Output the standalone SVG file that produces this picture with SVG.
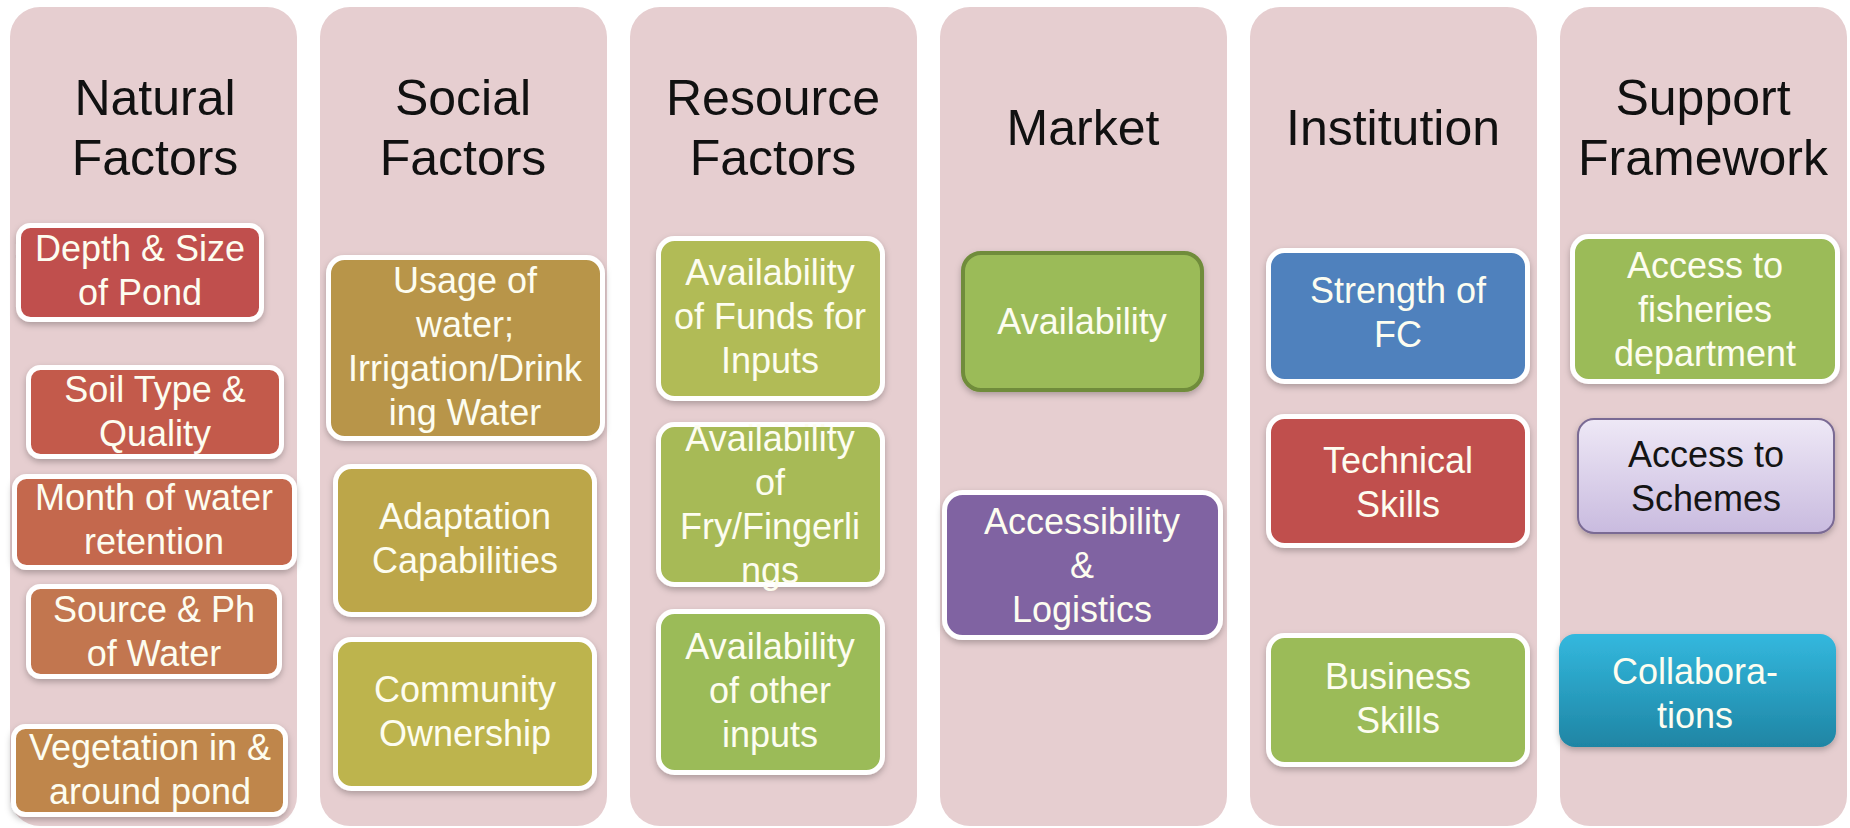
<svg xmlns="http://www.w3.org/2000/svg" width="1850" height="828" viewBox="0 0 1850 828">
  <style>
    .col { fill: #e6ced0; }
    .head { font-family: "Liberation Sans", Arial, sans-serif; font-size: 50px; fill: #111111; text-anchor: middle; }
    .lbl { font-family: "Liberation Sans", Arial, sans-serif; font-size: 36px; fill: #fdfdf0; text-anchor: middle; }
    .dark { fill: #141414; }
    .box { stroke: #ffffff; stroke-width: 5; filter: url(#shadow); }
  </style>
  <defs>
    <filter id="shadow" x="-10%" y="-10%" width="120%" height="130%">
      <feDropShadow dx="0" dy="3" stdDeviation="3" flood-color="#000000" flood-opacity="0.25"/>
    </filter>
    <linearGradient id="lavender" x1="0" y1="0" x2="0" y2="1">
      <stop offset="0" stop-color="#eee8f6"/>
      <stop offset="1" stop-color="#c9bbdf"/>
    </linearGradient>
    <linearGradient id="teal" x1="0" y1="0" x2="0" y2="1">
      <stop offset="0" stop-color="#33b8de"/>
      <stop offset="1" stop-color="#1f85a4"/>
    </linearGradient>
  </defs>

  <rect width="1850" height="828" fill="#ffffff"/>

  <!-- column panels -->
  <g id="columns">
    <rect class="col" x="10" y="7" width="287" height="819" rx="30"/>
    <rect class="col" x="320" y="7" width="287" height="819" rx="30"/>
    <rect class="col" x="630" y="7" width="287" height="819" rx="30"/>
    <rect class="col" x="940" y="7" width="287" height="819" rx="30"/>
    <rect class="col" x="1250" y="7" width="287" height="819" rx="30"/>
    <rect class="col" x="1560" y="7" width="287" height="819" rx="30"/>
  </g>

  <!-- column headings -->
  <g id="headings">
    <text class="head" x="155" y="115">Natural</text>
    <text class="head" x="155" y="175">Factors</text>
    <text class="head" x="463" y="115">Social</text>
    <text class="head" x="463" y="175">Factors</text>
    <text class="head" x="773" y="115">Resource</text>
    <text class="head" x="773" y="175">Factors</text>
    <text class="head" x="1083" y="145">Market</text>
    <text class="head" x="1393" y="145">Institution</text>
    <text class="head" x="1703" y="115">Support</text>
    <text class="head" x="1703" y="175">Framework</text>
  </g>

  <!-- Natural Factors -->
  <g id="depth-size">
    <rect class="box" x="18.5" y="225.5" width="243" height="94" rx="12" fill="#c0504d"/>
    <text class="lbl" x="140" y="261">Depth &amp; Size</text>
    <text class="lbl" x="140" y="305">of Pond</text>
  </g>
  <g id="soil-type">
    <rect class="box" x="28.5" y="367.5" width="253" height="89" rx="12" fill="#c35a4b"/>
    <text class="lbl" x="155" y="402">Soil Type &amp;</text>
    <text class="lbl" x="155" y="446">Quality</text>
  </g>
  <g id="water-retention">
    <rect class="box" x="14.5" y="476.5" width="280" height="91" rx="12" fill="#c4674d"/>
    <text class="lbl" x="154" y="510">Month of water</text>
    <text class="lbl" x="154" y="554">retention</text>
  </g>
  <g id="source-ph">
    <rect class="box" x="28.5" y="586.5" width="251" height="90" rx="12" fill="#c27650"/>
    <text class="lbl" x="154" y="622">Source &amp; Ph</text>
    <text class="lbl" x="154" y="666">of Water</text>
  </g>
  <g id="vegetation">
    <rect class="box" x="13.5" y="726.5" width="272" height="88" rx="12" fill="#bf864c"/>
    <text class="lbl" x="150" y="760">Vegetation in &amp;</text>
    <text class="lbl" x="150" y="804">around pond</text>
  </g>

  <!-- Social Factors -->
  <g id="water-usage">
    <rect class="box" x="328.5" y="257.5" width="274" height="181" rx="16" fill="#b8954a"/>
    <text class="lbl" x="465" y="293">Usage of</text>
    <text class="lbl" x="465" y="337">water;</text>
    <text class="lbl" x="465" y="381">Irrigation/Drink</text>
    <text class="lbl" x="465" y="425">ing Water</text>
  </g>
  <g id="adaptation">
    <rect class="box" x="335.5" y="466.5" width="259" height="148" rx="16" fill="#bca64a"/>
    <text class="lbl" x="465" y="529">Adaptation</text>
    <text class="lbl" x="465" y="573">Capabilities</text>
  </g>
  <g id="community">
    <rect class="box" x="335.5" y="639.5" width="259" height="149" rx="16" fill="#bdb44d"/>
    <text class="lbl" x="465" y="702">Community</text>
    <text class="lbl" x="465" y="746">Ownership</text>
  </g>

  <!-- Resource Factors -->
  <g id="funds">
    <rect class="box" x="658.5" y="238.5" width="224" height="160" rx="16" fill="#b1bb57"/>
    <text class="lbl" x="770" y="285">Availability</text>
    <text class="lbl" x="770" y="329">of Funds for</text>
    <text class="lbl" x="770" y="373">Inputs</text>
  </g>
  <g id="fry">
    <rect class="box" x="658.5" y="424.5" width="224" height="160" rx="16" fill="#a7ba56"/>
    <text class="lbl" x="770" y="451">Availability</text>
    <text class="lbl" x="770" y="495">of</text>
    <text class="lbl" x="770" y="539">Fry/Fingerli</text>
    <text class="lbl" x="770" y="583">ngs</text>
  </g>
  <g id="other-inputs">
    <rect class="box" x="658.5" y="611.5" width="224" height="161" rx="16" fill="#9bbb59"/>
    <text class="lbl" x="770" y="659">Availability</text>
    <text class="lbl" x="770" y="703">of other</text>
    <text class="lbl" x="770" y="747">inputs</text>
  </g>

  <!-- Market -->
  <g id="market-availability">
    <rect x="963" y="253" width="239" height="137" rx="18" fill="#9bbb59" stroke="#6f8c3a" stroke-width="4" filter="url(#shadow)"/>
    <text class="lbl" x="1082" y="334">Availability</text>
  </g>
  <g id="logistics">
    <rect class="box" x="944.5" y="492.5" width="276" height="145" rx="18" fill="#8064a2"/>
    <text class="lbl" x="1082" y="534">Accessibility</text>
    <text class="lbl" x="1082" y="578">&amp;</text>
    <text class="lbl" x="1082" y="622">Logistics</text>
  </g>

  <!-- Institution -->
  <g id="strength-fc">
    <rect class="box" x="1268.5" y="250.5" width="259" height="131" rx="16" fill="#4f81bd"/>
    <text class="lbl" x="1398" y="303">Strength of</text>
    <text class="lbl" x="1398" y="347">FC</text>
  </g>
  <g id="technical-skills">
    <rect class="box" x="1268.5" y="416.5" width="259" height="129" rx="16" fill="#c0504d"/>
    <text class="lbl" x="1398" y="473">Technical</text>
    <text class="lbl" x="1398" y="517">Skills</text>
  </g>
  <g id="business-skills">
    <rect class="box" x="1268.5" y="635.5" width="259" height="129" rx="16" fill="#9bbb59"/>
    <text class="lbl" x="1398" y="689">Business</text>
    <text class="lbl" x="1398" y="733">Skills</text>
  </g>

  <!-- Support Framework -->
  <g id="fisheries-dept">
    <rect class="box" x="1572.5" y="236.5" width="265" height="145" rx="16" fill="#9bbb59"/>
    <text class="lbl" x="1705" y="278">Access to</text>
    <text class="lbl" x="1705" y="322">fisheries</text>
    <text class="lbl" x="1705" y="366">department</text>
  </g>
  <g id="schemes">
    <rect x="1578" y="419" width="256" height="114" rx="16" fill="url(#lavender)" stroke="#7a6a94" stroke-width="2" filter="url(#shadow)"/>
    <text class="lbl dark" x="1706" y="467">Access to</text>
    <text class="lbl dark" x="1706" y="511">Schemes</text>
  </g>
  <g id="collaborations">
    <rect x="1559" y="634" width="277" height="113" rx="16" fill="url(#teal)" filter="url(#shadow)"/>
    <text class="lbl" x="1695" y="684">Collabora-</text>
    <text class="lbl" x="1695" y="728">tions</text>
  </g>

  <!-- the chart has no connectors -->
  <g id="connectors"/>
</svg>
